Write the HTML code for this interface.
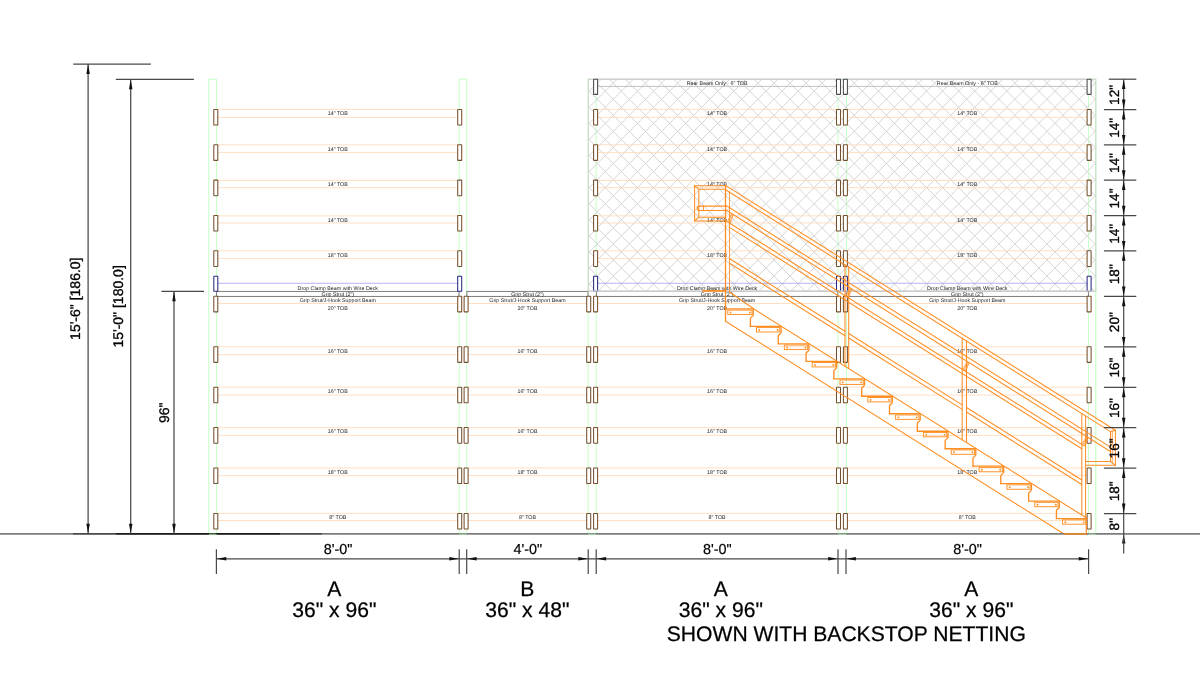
<!DOCTYPE html>
<html><head><meta charset="utf-8"><title>Rack Elevation</title>
<style>
html,body{margin:0;padding:0;background:#fff;}
body{width:1200px;height:684px;overflow:hidden;font-family:"Liberation Sans",sans-serif;}
svg{display:block;font-family:"Liberation Sans",sans-serif;text-rendering:geometricPrecision;will-change:transform;}
</style></head><body>
<svg width="1200" height="684" viewBox="0 0 1200 684">
<rect width="1200" height="684" fill="#fff"/>
<rect x="208.80" y="79.20" width="7.60" height="454.50" fill="none" stroke="#c0ffc0" stroke-width="0.9" rx="0" />
<rect x="459.20" y="79.20" width="7.50" height="454.50" fill="none" stroke="#c0ffc0" stroke-width="0.9" rx="0" />
<rect x="588.20" y="79.20" width="8.00" height="454.50" fill="none" stroke="#c0ffc0" stroke-width="0.9" rx="0" />
<rect x="838.00" y="79.20" width="8.50" height="454.50" fill="none" stroke="#c0ffc0" stroke-width="0.9" rx="0" />
<rect x="1088.60" y="79.20" width="7.20" height="454.50" fill="none" stroke="#c0ffc0" stroke-width="0.9" rx="0" />
<clipPath id="netclip"><rect x="588.3" y="79.20" width="507.50" height="212.00"/></clipPath>
<g clip-path="url(#netclip)" stroke="#d5d5d5" stroke-width="1.0" fill="none">
<path d="M574.10 74.20L352.10 296.20M590.17 74.20L368.17 296.20M606.23 74.20L384.23 296.20M622.30 74.20L400.30 296.20M638.37 74.20L416.37 296.20M654.43 74.20L432.43 296.20M670.50 74.20L448.50 296.20M686.56 74.20L464.56 296.20M702.62 74.20L480.63 296.20M718.69 74.20L496.69 296.20M734.75 74.20L512.76 296.20M750.82 74.20L528.82 296.20M766.88 74.20L544.88 296.20M782.95 74.20L560.95 296.20M799.01 74.20L577.02 296.20M815.08 74.20L593.08 296.20M831.14 74.20L609.14 296.20M847.21 74.20L625.21 296.20M863.27 74.20L641.28 296.20M879.34 74.20L657.34 296.20M895.40 74.20L673.40 296.20M911.47 74.20L689.47 296.20M927.53 74.20L705.54 296.20M943.60 74.20L721.60 296.20M959.66 74.20L737.66 296.20M975.73 74.20L753.73 296.20M991.79 74.20L769.79 296.20M1007.86 74.20L785.86 296.20M1023.92 74.20L801.92 296.20M1039.99 74.20L817.99 296.20M1056.06 74.20L834.06 296.20M1072.12 74.20L850.12 296.20M1088.18 74.20L866.18 296.20M1104.25 74.20L882.25 296.20M1120.32 74.20L898.32 296.20M1136.38 74.20L914.38 296.20M1152.44 74.20L930.44 296.20M1168.51 74.20L946.51 296.20M1184.58 74.20L962.58 296.20M1200.64 74.20L978.64 296.20M1216.71 74.20L994.71 296.20M1232.77 74.20L1010.77 296.20M1248.84 74.20L1026.84 296.20M1264.90 74.20L1042.90 296.20M1280.96 74.20L1058.96 296.20M1297.03 74.20L1075.03 296.20M1313.10 74.20L1091.10 296.20M1329.16 74.20L1107.16 296.20M347.26 74.20L569.26 296.20M363.32 74.20L585.32 296.20M379.39 74.20L601.39 296.20M395.45 74.20L617.45 296.20M411.52 74.20L633.52 296.20M427.58 74.20L649.58 296.20M443.65 74.20L665.65 296.20M459.71 74.20L681.71 296.20M475.78 74.20L697.78 296.20M491.84 74.20L713.84 296.20M507.91 74.20L729.91 296.20M523.97 74.20L745.97 296.20M540.04 74.20L762.04 296.20M556.10 74.20L778.10 296.20M572.17 74.20L794.17 296.20M588.23 74.20L810.23 296.20M604.30 74.20L826.30 296.20M620.37 74.20L842.37 296.20M636.43 74.20L858.43 296.20M652.50 74.20L874.49 296.20M668.56 74.20L890.56 296.20M684.62 74.20L906.62 296.20M700.69 74.20L922.69 296.20M716.75 74.20L938.75 296.20M732.82 74.20L954.82 296.20M748.88 74.20L970.88 296.20M764.95 74.20L986.95 296.20M781.01 74.20L1003.01 296.20M797.08 74.20L1019.08 296.20M813.14 74.20L1035.14 296.20M829.21 74.20L1051.21 296.20M845.27 74.20L1067.27 296.20M861.34 74.20L1083.34 296.20M877.40 74.20L1099.40 296.20M893.47 74.20L1115.47 296.20M909.53 74.20L1131.53 296.20M925.60 74.20L1147.60 296.20M941.66 74.20L1163.66 296.20M957.73 74.20L1179.73 296.20M973.79 74.20L1195.79 296.20M989.86 74.20L1211.86 296.20M1005.92 74.20L1227.92 296.20M1021.99 74.20L1243.99 296.20M1038.06 74.20L1260.06 296.20M1054.12 74.20L1276.12 296.20M1070.18 74.20L1292.18 296.20M1086.25 74.20L1308.25 296.20M1102.32 74.20L1324.32 296.20M1118.38 74.20L1340.38 296.20"/>
</g>
<line x1="217.40" y1="109.40" x2="458.20" y2="109.40" stroke="#ffdabb" stroke-width="0.85" />
<line x1="217.40" y1="117.40" x2="458.20" y2="117.40" stroke="#ffdabb" stroke-width="0.85" />
<text x="337.80" y="115.30" font-size="5.3" text-anchor="middle" fill="#222" >14&quot; TOB</text>
<line x1="217.40" y1="144.75" x2="458.20" y2="144.75" stroke="#ffdabb" stroke-width="0.85" />
<line x1="217.40" y1="152.45" x2="458.20" y2="152.45" stroke="#ffdabb" stroke-width="0.85" />
<text x="337.80" y="150.65" font-size="5.3" text-anchor="middle" fill="#222" >14&quot; TOB</text>
<line x1="217.40" y1="180.50" x2="458.20" y2="180.50" stroke="#ffdabb" stroke-width="0.85" />
<line x1="217.40" y1="187.60" x2="458.20" y2="187.60" stroke="#ffdabb" stroke-width="0.85" />
<text x="337.80" y="186.40" font-size="5.3" text-anchor="middle" fill="#222" >14&quot; TOB</text>
<line x1="217.40" y1="215.85" x2="458.20" y2="215.85" stroke="#ffdabb" stroke-width="0.85" />
<line x1="217.40" y1="222.95" x2="458.20" y2="222.95" stroke="#ffdabb" stroke-width="0.85" />
<text x="337.80" y="221.75" font-size="5.3" text-anchor="middle" fill="#222" >14&quot; TOB</text>
<line x1="217.40" y1="250.80" x2="458.20" y2="250.80" stroke="#ffdabb" stroke-width="0.85" />
<line x1="217.40" y1="258.40" x2="458.20" y2="258.40" stroke="#ffdabb" stroke-width="0.85" />
<text x="337.80" y="256.70" font-size="5.3" text-anchor="middle" fill="#222" >18&quot; TOB</text>
<line x1="217.40" y1="296.25" x2="458.20" y2="296.25" stroke="#ffdabb" stroke-width="0.85" />
<line x1="217.40" y1="303.50" x2="458.20" y2="303.50" stroke="#ffdabb" stroke-width="0.9" />
<text x="337.80" y="310.00" font-size="5.3" text-anchor="middle" fill="#222" >20&quot; TOB</text>
<line x1="217.40" y1="346.75" x2="458.20" y2="346.75" stroke="#ffdabb" stroke-width="0.85" />
<line x1="217.40" y1="354.65" x2="458.20" y2="354.65" stroke="#ffdabb" stroke-width="0.85" />
<text x="337.80" y="352.65" font-size="5.3" text-anchor="middle" fill="#222" >16&quot; TOB</text>
<line x1="217.40" y1="387.15" x2="458.20" y2="387.15" stroke="#ffdabb" stroke-width="0.85" />
<line x1="217.40" y1="395.05" x2="458.20" y2="395.05" stroke="#ffdabb" stroke-width="0.85" />
<text x="337.80" y="393.05" font-size="5.3" text-anchor="middle" fill="#222" >16&quot; TOB</text>
<line x1="217.40" y1="427.55" x2="458.20" y2="427.55" stroke="#ffdabb" stroke-width="0.85" />
<line x1="217.40" y1="435.45" x2="458.20" y2="435.45" stroke="#ffdabb" stroke-width="0.85" />
<text x="337.80" y="433.45" font-size="5.3" text-anchor="middle" fill="#222" >16&quot; TOB</text>
<line x1="217.40" y1="467.95" x2="458.20" y2="467.95" stroke="#ffdabb" stroke-width="0.85" />
<line x1="217.40" y1="475.55" x2="458.20" y2="475.55" stroke="#ffdabb" stroke-width="0.85" />
<text x="337.80" y="473.85" font-size="5.3" text-anchor="middle" fill="#222" >18&quot; TOB</text>
<line x1="217.40" y1="513.40" x2="458.20" y2="513.40" stroke="#ffdabb" stroke-width="0.85" />
<line x1="217.40" y1="520.50" x2="458.20" y2="520.50" stroke="#ffdabb" stroke-width="0.85" />
<text x="337.80" y="519.30" font-size="5.3" text-anchor="middle" fill="#222" >8&quot; TOB</text>
<rect x="216.60" y="291.40" width="242.40" height="5.00" fill="#fff" stroke="#707070" stroke-width="0.9" rx="0" />
<text x="337.80" y="295.80" font-size="5.3" text-anchor="middle" fill="#222" >Grip Strut (2&quot;)</text>
<text x="337.80" y="302.10" font-size="5.3" text-anchor="middle" fill="#222" >Grip Strut/J-Hook Support Beam</text>
<line x1="217.40" y1="283.30" x2="458.20" y2="283.30" stroke="#a8a8f4" stroke-width="0.85" />
<text x="337.80" y="289.90" font-size="5.3" text-anchor="middle" fill="#222" >Drop Clamp Beam with Wire Deck</text>
<line x1="467.70" y1="296.25" x2="587.20" y2="296.25" stroke="#ffdabb" stroke-width="0.85" />
<line x1="467.70" y1="303.50" x2="587.20" y2="303.50" stroke="#ffdabb" stroke-width="0.9" />
<text x="527.45" y="310.00" font-size="5.3" text-anchor="middle" fill="#222" >20&quot; TOB</text>
<line x1="467.70" y1="346.75" x2="587.20" y2="346.75" stroke="#ffdabb" stroke-width="0.85" />
<line x1="467.70" y1="354.65" x2="587.20" y2="354.65" stroke="#ffdabb" stroke-width="0.85" />
<text x="527.45" y="352.65" font-size="5.3" text-anchor="middle" fill="#222" >16&quot; TOB</text>
<line x1="467.70" y1="387.15" x2="587.20" y2="387.15" stroke="#ffdabb" stroke-width="0.85" />
<line x1="467.70" y1="395.05" x2="587.20" y2="395.05" stroke="#ffdabb" stroke-width="0.85" />
<text x="527.45" y="393.05" font-size="5.3" text-anchor="middle" fill="#222" >16&quot; TOB</text>
<line x1="467.70" y1="427.55" x2="587.20" y2="427.55" stroke="#ffdabb" stroke-width="0.85" />
<line x1="467.70" y1="435.45" x2="587.20" y2="435.45" stroke="#ffdabb" stroke-width="0.85" />
<text x="527.45" y="433.45" font-size="5.3" text-anchor="middle" fill="#222" >16&quot; TOB</text>
<line x1="467.70" y1="467.95" x2="587.20" y2="467.95" stroke="#ffdabb" stroke-width="0.85" />
<line x1="467.70" y1="475.55" x2="587.20" y2="475.55" stroke="#ffdabb" stroke-width="0.85" />
<text x="527.45" y="473.85" font-size="5.3" text-anchor="middle" fill="#222" >18&quot; TOB</text>
<line x1="467.70" y1="513.40" x2="587.20" y2="513.40" stroke="#ffdabb" stroke-width="0.85" />
<line x1="467.70" y1="520.50" x2="587.20" y2="520.50" stroke="#ffdabb" stroke-width="0.85" />
<text x="527.45" y="519.30" font-size="5.3" text-anchor="middle" fill="#222" >8&quot; TOB</text>
<rect x="466.90" y="291.40" width="121.10" height="5.00" fill="#fff" stroke="#707070" stroke-width="0.9" rx="0" />
<text x="527.45" y="295.80" font-size="5.3" text-anchor="middle" fill="#222" >Grip Strut (2&quot;)</text>
<text x="527.45" y="302.10" font-size="5.3" text-anchor="middle" fill="#222" >Grip Strut/J-Hook Support Beam</text>
<line x1="597.20" y1="109.40" x2="837.00" y2="109.40" stroke="#ffdabb" stroke-width="0.85" />
<line x1="597.20" y1="117.40" x2="837.00" y2="117.40" stroke="#ffdabb" stroke-width="0.85" />
<text x="717.10" y="115.30" font-size="5.3" text-anchor="middle" fill="#222" >14&quot; TOB</text>
<line x1="597.20" y1="144.75" x2="837.00" y2="144.75" stroke="#ffdabb" stroke-width="0.85" />
<line x1="597.20" y1="152.45" x2="837.00" y2="152.45" stroke="#ffdabb" stroke-width="0.85" />
<text x="717.10" y="150.65" font-size="5.3" text-anchor="middle" fill="#222" >14&quot; TOB</text>
<line x1="597.20" y1="180.50" x2="837.00" y2="180.50" stroke="#ffdabb" stroke-width="0.85" />
<line x1="597.20" y1="187.60" x2="837.00" y2="187.60" stroke="#ffdabb" stroke-width="0.85" />
<text x="717.10" y="186.40" font-size="5.3" text-anchor="middle" fill="#222" >14&quot; TOB</text>
<line x1="597.20" y1="215.85" x2="837.00" y2="215.85" stroke="#ffdabb" stroke-width="0.85" />
<line x1="597.20" y1="222.95" x2="837.00" y2="222.95" stroke="#ffdabb" stroke-width="0.85" />
<text x="717.10" y="221.75" font-size="5.3" text-anchor="middle" fill="#222" >14&quot; TOB</text>
<line x1="597.20" y1="250.80" x2="837.00" y2="250.80" stroke="#ffdabb" stroke-width="0.85" />
<line x1="597.20" y1="258.40" x2="837.00" y2="258.40" stroke="#ffdabb" stroke-width="0.85" />
<text x="717.10" y="256.70" font-size="5.3" text-anchor="middle" fill="#222" >18&quot; TOB</text>
<line x1="597.20" y1="296.25" x2="837.00" y2="296.25" stroke="#ffdabb" stroke-width="0.85" />
<line x1="597.20" y1="303.50" x2="837.00" y2="303.50" stroke="#ffdabb" stroke-width="0.9" />
<text x="717.10" y="310.00" font-size="5.3" text-anchor="middle" fill="#222" >20&quot; TOB</text>
<line x1="597.20" y1="346.75" x2="837.00" y2="346.75" stroke="#ffdabb" stroke-width="0.85" />
<line x1="597.20" y1="354.65" x2="837.00" y2="354.65" stroke="#ffdabb" stroke-width="0.85" />
<text x="717.10" y="352.65" font-size="5.3" text-anchor="middle" fill="#222" >16&quot; TOB</text>
<line x1="597.20" y1="387.15" x2="837.00" y2="387.15" stroke="#ffdabb" stroke-width="0.85" />
<line x1="597.20" y1="395.05" x2="837.00" y2="395.05" stroke="#ffdabb" stroke-width="0.85" />
<text x="717.10" y="393.05" font-size="5.3" text-anchor="middle" fill="#222" >16&quot; TOB</text>
<line x1="597.20" y1="427.55" x2="837.00" y2="427.55" stroke="#ffdabb" stroke-width="0.85" />
<line x1="597.20" y1="435.45" x2="837.00" y2="435.45" stroke="#ffdabb" stroke-width="0.85" />
<text x="717.10" y="433.45" font-size="5.3" text-anchor="middle" fill="#222" >16&quot; TOB</text>
<line x1="597.20" y1="467.95" x2="837.00" y2="467.95" stroke="#ffdabb" stroke-width="0.85" />
<line x1="597.20" y1="475.55" x2="837.00" y2="475.55" stroke="#ffdabb" stroke-width="0.85" />
<text x="717.10" y="473.85" font-size="5.3" text-anchor="middle" fill="#222" >18&quot; TOB</text>
<line x1="597.20" y1="513.40" x2="837.00" y2="513.40" stroke="#ffdabb" stroke-width="0.85" />
<line x1="597.20" y1="520.50" x2="837.00" y2="520.50" stroke="#ffdabb" stroke-width="0.85" />
<text x="717.10" y="519.30" font-size="5.3" text-anchor="middle" fill="#222" >8&quot; TOB</text>
<rect x="596.40" y="291.40" width="241.40" height="5.00" fill="#fff" stroke="#707070" stroke-width="0.9" rx="0" />
<text x="717.10" y="295.80" font-size="5.3" text-anchor="middle" fill="#222" >Grip Strut (2&quot;)</text>
<text x="717.10" y="302.10" font-size="5.3" text-anchor="middle" fill="#222" >Grip Strut/J-Hook Support Beam</text>
<line x1="597.20" y1="283.30" x2="837.00" y2="283.30" stroke="#a8a8f4" stroke-width="0.85" />
<text x="717.10" y="289.90" font-size="5.3" text-anchor="middle" fill="#222" >Drop Clamp Beam with Wire Deck</text>
<line x1="597.20" y1="79.20" x2="837.00" y2="79.20" stroke="#bbb" stroke-width="0.9" />
<line x1="597.20" y1="86.40" x2="837.00" y2="86.40" stroke="#bbb" stroke-width="0.9" />
<text x="717.10" y="85.00" font-size="5.3" text-anchor="middle" fill="#222" >Rear Beam Only - 6&quot; TOB</text>
<line x1="847.00" y1="109.40" x2="1087.60" y2="109.40" stroke="#ffdabb" stroke-width="0.85" />
<line x1="847.00" y1="117.40" x2="1087.60" y2="117.40" stroke="#ffdabb" stroke-width="0.85" />
<text x="967.30" y="115.30" font-size="5.3" text-anchor="middle" fill="#222" >14&quot; TOB</text>
<line x1="847.00" y1="144.75" x2="1087.60" y2="144.75" stroke="#ffdabb" stroke-width="0.85" />
<line x1="847.00" y1="152.45" x2="1087.60" y2="152.45" stroke="#ffdabb" stroke-width="0.85" />
<text x="967.30" y="150.65" font-size="5.3" text-anchor="middle" fill="#222" >14&quot; TOB</text>
<line x1="847.00" y1="180.50" x2="1087.60" y2="180.50" stroke="#ffdabb" stroke-width="0.85" />
<line x1="847.00" y1="187.60" x2="1087.60" y2="187.60" stroke="#ffdabb" stroke-width="0.85" />
<text x="967.30" y="186.40" font-size="5.3" text-anchor="middle" fill="#222" >14&quot; TOB</text>
<line x1="847.00" y1="215.85" x2="1087.60" y2="215.85" stroke="#ffdabb" stroke-width="0.85" />
<line x1="847.00" y1="222.95" x2="1087.60" y2="222.95" stroke="#ffdabb" stroke-width="0.85" />
<text x="967.30" y="221.75" font-size="5.3" text-anchor="middle" fill="#222" >14&quot; TOB</text>
<line x1="847.00" y1="250.80" x2="1087.60" y2="250.80" stroke="#ffdabb" stroke-width="0.85" />
<line x1="847.00" y1="258.40" x2="1087.60" y2="258.40" stroke="#ffdabb" stroke-width="0.85" />
<text x="967.30" y="256.70" font-size="5.3" text-anchor="middle" fill="#222" >18&quot; TOB</text>
<line x1="847.00" y1="296.25" x2="1087.60" y2="296.25" stroke="#ffdabb" stroke-width="0.85" />
<line x1="847.00" y1="303.50" x2="1087.60" y2="303.50" stroke="#ffdabb" stroke-width="0.9" />
<text x="967.30" y="310.00" font-size="5.3" text-anchor="middle" fill="#222" >20&quot; TOB</text>
<line x1="847.00" y1="346.75" x2="1087.60" y2="346.75" stroke="#ffdabb" stroke-width="0.85" />
<line x1="847.00" y1="354.65" x2="1087.60" y2="354.65" stroke="#ffdabb" stroke-width="0.85" />
<text x="967.30" y="352.65" font-size="5.3" text-anchor="middle" fill="#222" >16&quot; TOB</text>
<line x1="847.00" y1="387.15" x2="1087.60" y2="387.15" stroke="#ffdabb" stroke-width="0.85" />
<line x1="847.00" y1="395.05" x2="1087.60" y2="395.05" stroke="#ffdabb" stroke-width="0.85" />
<text x="967.30" y="393.05" font-size="5.3" text-anchor="middle" fill="#222" >16&quot; TOB</text>
<line x1="847.00" y1="427.55" x2="1087.60" y2="427.55" stroke="#ffdabb" stroke-width="0.85" />
<line x1="847.00" y1="435.45" x2="1087.60" y2="435.45" stroke="#ffdabb" stroke-width="0.85" />
<text x="967.30" y="433.45" font-size="5.3" text-anchor="middle" fill="#222" >16&quot; TOB</text>
<line x1="847.00" y1="467.95" x2="1087.60" y2="467.95" stroke="#ffdabb" stroke-width="0.85" />
<line x1="847.00" y1="475.55" x2="1087.60" y2="475.55" stroke="#ffdabb" stroke-width="0.85" />
<text x="967.30" y="473.85" font-size="5.3" text-anchor="middle" fill="#222" >18&quot; TOB</text>
<line x1="847.00" y1="513.40" x2="1087.60" y2="513.40" stroke="#ffdabb" stroke-width="0.85" />
<line x1="847.00" y1="520.50" x2="1087.60" y2="520.50" stroke="#ffdabb" stroke-width="0.85" />
<text x="967.30" y="519.30" font-size="5.3" text-anchor="middle" fill="#222" >8&quot; TOB</text>
<rect x="846.20" y="291.40" width="242.20" height="5.00" fill="#fff" stroke="#707070" stroke-width="0.9" rx="0" />
<text x="967.30" y="295.80" font-size="5.3" text-anchor="middle" fill="#222" >Grip Strut (2&quot;)</text>
<text x="967.30" y="302.10" font-size="5.3" text-anchor="middle" fill="#222" >Grip Strut/J-Hook Support Beam</text>
<line x1="847.00" y1="283.30" x2="1087.60" y2="283.30" stroke="#a8a8f4" stroke-width="0.85" />
<text x="967.30" y="289.90" font-size="5.3" text-anchor="middle" fill="#222" >Drop Clamp Beam with Wire Deck</text>
<line x1="847.00" y1="79.20" x2="1087.60" y2="79.20" stroke="#bbb" stroke-width="0.9" />
<line x1="847.00" y1="86.40" x2="1087.60" y2="86.40" stroke="#bbb" stroke-width="0.9" />
<text x="967.30" y="85.00" font-size="5.3" text-anchor="middle" fill="#222" >Rear Beam Only - 6&quot; TOB</text>
<rect x="588.30" y="79.20" width="507.50" height="212.00" fill="none" stroke="#cecece" stroke-width="1.0" rx="0" />
<rect x="213.80" y="109.40" width="4.00" height="15.60" fill="#fff" stroke="#75502e" stroke-width="1.05" rx="0.35" />
<rect x="457.70" y="109.40" width="4.00" height="15.60" fill="#fff" stroke="#75502e" stroke-width="1.05" rx="0.35" />
<rect x="213.80" y="144.75" width="4.00" height="15.60" fill="#fff" stroke="#75502e" stroke-width="1.05" rx="0.35" />
<rect x="457.70" y="144.75" width="4.00" height="15.60" fill="#fff" stroke="#75502e" stroke-width="1.05" rx="0.35" />
<rect x="213.80" y="180.10" width="4.00" height="15.60" fill="#fff" stroke="#75502e" stroke-width="1.05" rx="0.35" />
<rect x="457.70" y="180.10" width="4.00" height="15.60" fill="#fff" stroke="#75502e" stroke-width="1.05" rx="0.35" />
<rect x="213.80" y="215.45" width="4.00" height="15.60" fill="#fff" stroke="#75502e" stroke-width="1.05" rx="0.35" />
<rect x="457.70" y="215.45" width="4.00" height="15.60" fill="#fff" stroke="#75502e" stroke-width="1.05" rx="0.35" />
<rect x="213.80" y="250.80" width="4.00" height="15.60" fill="#fff" stroke="#75502e" stroke-width="1.05" rx="0.35" />
<rect x="457.70" y="250.80" width="4.00" height="15.60" fill="#fff" stroke="#75502e" stroke-width="1.05" rx="0.35" />
<rect x="213.80" y="296.25" width="4.00" height="15.60" fill="#fff" stroke="#75502e" stroke-width="1.05" rx="0.35" />
<rect x="457.70" y="296.25" width="4.00" height="15.60" fill="#fff" stroke="#75502e" stroke-width="1.05" rx="0.35" />
<rect x="213.80" y="346.75" width="4.00" height="15.60" fill="#fff" stroke="#75502e" stroke-width="1.05" rx="0.35" />
<rect x="457.70" y="346.75" width="4.00" height="15.60" fill="#fff" stroke="#75502e" stroke-width="1.05" rx="0.35" />
<rect x="213.80" y="387.15" width="4.00" height="15.60" fill="#fff" stroke="#75502e" stroke-width="1.05" rx="0.35" />
<rect x="457.70" y="387.15" width="4.00" height="15.60" fill="#fff" stroke="#75502e" stroke-width="1.05" rx="0.35" />
<rect x="213.80" y="427.55" width="4.00" height="15.60" fill="#fff" stroke="#75502e" stroke-width="1.05" rx="0.35" />
<rect x="457.70" y="427.55" width="4.00" height="15.60" fill="#fff" stroke="#75502e" stroke-width="1.05" rx="0.35" />
<rect x="213.80" y="467.95" width="4.00" height="15.60" fill="#fff" stroke="#75502e" stroke-width="1.05" rx="0.35" />
<rect x="457.70" y="467.95" width="4.00" height="15.60" fill="#fff" stroke="#75502e" stroke-width="1.05" rx="0.35" />
<rect x="213.80" y="513.40" width="4.00" height="15.60" fill="#fff" stroke="#75502e" stroke-width="1.05" rx="0.35" />
<rect x="457.70" y="513.40" width="4.00" height="15.60" fill="#fff" stroke="#75502e" stroke-width="1.05" rx="0.35" />
<rect x="213.80" y="276.30" width="4.00" height="15.00" fill="#fff" stroke="#2a2a80" stroke-width="1.05" rx="0.35" />
<rect x="457.70" y="276.30" width="4.00" height="15.00" fill="#fff" stroke="#2a2a80" stroke-width="1.05" rx="0.35" />
<rect x="464.10" y="296.25" width="4.00" height="15.60" fill="#fff" stroke="#75502e" stroke-width="1.05" rx="0.35" />
<rect x="586.70" y="296.25" width="4.00" height="15.60" fill="#fff" stroke="#75502e" stroke-width="1.05" rx="0.35" />
<rect x="464.10" y="346.75" width="4.00" height="15.60" fill="#fff" stroke="#75502e" stroke-width="1.05" rx="0.35" />
<rect x="586.70" y="346.75" width="4.00" height="15.60" fill="#fff" stroke="#75502e" stroke-width="1.05" rx="0.35" />
<rect x="464.10" y="387.15" width="4.00" height="15.60" fill="#fff" stroke="#75502e" stroke-width="1.05" rx="0.35" />
<rect x="586.70" y="387.15" width="4.00" height="15.60" fill="#fff" stroke="#75502e" stroke-width="1.05" rx="0.35" />
<rect x="464.10" y="427.55" width="4.00" height="15.60" fill="#fff" stroke="#75502e" stroke-width="1.05" rx="0.35" />
<rect x="586.70" y="427.55" width="4.00" height="15.60" fill="#fff" stroke="#75502e" stroke-width="1.05" rx="0.35" />
<rect x="464.10" y="467.95" width="4.00" height="15.60" fill="#fff" stroke="#75502e" stroke-width="1.05" rx="0.35" />
<rect x="586.70" y="467.95" width="4.00" height="15.60" fill="#fff" stroke="#75502e" stroke-width="1.05" rx="0.35" />
<rect x="464.10" y="513.40" width="4.00" height="15.60" fill="#fff" stroke="#75502e" stroke-width="1.05" rx="0.35" />
<rect x="586.70" y="513.40" width="4.00" height="15.60" fill="#fff" stroke="#75502e" stroke-width="1.05" rx="0.35" />
<rect x="593.60" y="109.40" width="4.00" height="15.60" fill="#fff" stroke="#75502e" stroke-width="1.05" rx="0.35" />
<rect x="836.50" y="109.40" width="4.00" height="15.60" fill="#fff" stroke="#75502e" stroke-width="1.05" rx="0.35" />
<rect x="593.60" y="144.75" width="4.00" height="15.60" fill="#fff" stroke="#75502e" stroke-width="1.05" rx="0.35" />
<rect x="836.50" y="144.75" width="4.00" height="15.60" fill="#fff" stroke="#75502e" stroke-width="1.05" rx="0.35" />
<rect x="593.60" y="180.10" width="4.00" height="15.60" fill="#fff" stroke="#75502e" stroke-width="1.05" rx="0.35" />
<rect x="836.50" y="180.10" width="4.00" height="15.60" fill="#fff" stroke="#75502e" stroke-width="1.05" rx="0.35" />
<rect x="593.60" y="215.45" width="4.00" height="15.60" fill="#fff" stroke="#75502e" stroke-width="1.05" rx="0.35" />
<rect x="836.50" y="215.45" width="4.00" height="15.60" fill="#fff" stroke="#75502e" stroke-width="1.05" rx="0.35" />
<rect x="593.60" y="250.80" width="4.00" height="15.60" fill="#fff" stroke="#75502e" stroke-width="1.05" rx="0.35" />
<rect x="836.50" y="250.80" width="4.00" height="15.60" fill="#fff" stroke="#75502e" stroke-width="1.05" rx="0.35" />
<rect x="593.60" y="296.25" width="4.00" height="15.60" fill="#fff" stroke="#75502e" stroke-width="1.05" rx="0.35" />
<rect x="836.50" y="296.25" width="4.00" height="15.60" fill="#fff" stroke="#75502e" stroke-width="1.05" rx="0.35" />
<rect x="593.60" y="346.75" width="4.00" height="15.60" fill="#fff" stroke="#75502e" stroke-width="1.05" rx="0.35" />
<rect x="836.50" y="346.75" width="4.00" height="15.60" fill="#fff" stroke="#75502e" stroke-width="1.05" rx="0.35" />
<rect x="593.60" y="387.15" width="4.00" height="15.60" fill="#fff" stroke="#75502e" stroke-width="1.05" rx="0.35" />
<rect x="836.50" y="387.15" width="4.00" height="15.60" fill="#fff" stroke="#75502e" stroke-width="1.05" rx="0.35" />
<rect x="593.60" y="427.55" width="4.00" height="15.60" fill="#fff" stroke="#75502e" stroke-width="1.05" rx="0.35" />
<rect x="836.50" y="427.55" width="4.00" height="15.60" fill="#fff" stroke="#75502e" stroke-width="1.05" rx="0.35" />
<rect x="593.60" y="467.95" width="4.00" height="15.60" fill="#fff" stroke="#75502e" stroke-width="1.05" rx="0.35" />
<rect x="836.50" y="467.95" width="4.00" height="15.60" fill="#fff" stroke="#75502e" stroke-width="1.05" rx="0.35" />
<rect x="593.60" y="513.40" width="4.00" height="15.60" fill="#fff" stroke="#75502e" stroke-width="1.05" rx="0.35" />
<rect x="836.50" y="513.40" width="4.00" height="15.60" fill="#fff" stroke="#75502e" stroke-width="1.05" rx="0.35" />
<rect x="593.60" y="276.30" width="4.00" height="15.00" fill="#fff" stroke="#2a2a80" stroke-width="1.05" rx="0.35" />
<rect x="836.50" y="276.30" width="4.00" height="15.00" fill="#fff" stroke="#2a2a80" stroke-width="1.05" rx="0.35" />
<rect x="593.60" y="79.20" width="4.00" height="15.20" fill="#fff" stroke="#4a4a4a" stroke-width="1.05" rx="0.35" />
<rect x="836.50" y="79.20" width="4.00" height="15.20" fill="#fff" stroke="#4a4a4a" stroke-width="1.05" rx="0.35" />
<rect x="843.40" y="109.40" width="4.00" height="15.60" fill="#fff" stroke="#75502e" stroke-width="1.05" rx="0.35" />
<rect x="1087.10" y="109.40" width="4.00" height="15.60" fill="#fff" stroke="#75502e" stroke-width="1.05" rx="0.35" />
<rect x="843.40" y="144.75" width="4.00" height="15.60" fill="#fff" stroke="#75502e" stroke-width="1.05" rx="0.35" />
<rect x="1087.10" y="144.75" width="4.00" height="15.60" fill="#fff" stroke="#75502e" stroke-width="1.05" rx="0.35" />
<rect x="843.40" y="180.10" width="4.00" height="15.60" fill="#fff" stroke="#75502e" stroke-width="1.05" rx="0.35" />
<rect x="1087.10" y="180.10" width="4.00" height="15.60" fill="#fff" stroke="#75502e" stroke-width="1.05" rx="0.35" />
<rect x="843.40" y="215.45" width="4.00" height="15.60" fill="#fff" stroke="#75502e" stroke-width="1.05" rx="0.35" />
<rect x="1087.10" y="215.45" width="4.00" height="15.60" fill="#fff" stroke="#75502e" stroke-width="1.05" rx="0.35" />
<rect x="843.40" y="250.80" width="4.00" height="15.60" fill="#fff" stroke="#75502e" stroke-width="1.05" rx="0.35" />
<rect x="1087.10" y="250.80" width="4.00" height="15.60" fill="#fff" stroke="#75502e" stroke-width="1.05" rx="0.35" />
<rect x="843.40" y="296.25" width="4.00" height="15.60" fill="#fff" stroke="#75502e" stroke-width="1.05" rx="0.35" />
<rect x="1087.10" y="296.25" width="4.00" height="15.60" fill="#fff" stroke="#75502e" stroke-width="1.05" rx="0.35" />
<rect x="843.40" y="346.75" width="4.00" height="15.60" fill="#fff" stroke="#75502e" stroke-width="1.05" rx="0.35" />
<rect x="1087.10" y="346.75" width="4.00" height="15.60" fill="#fff" stroke="#75502e" stroke-width="1.05" rx="0.35" />
<rect x="843.40" y="387.15" width="4.00" height="15.60" fill="#fff" stroke="#75502e" stroke-width="1.05" rx="0.35" />
<rect x="1087.10" y="387.15" width="4.00" height="15.60" fill="#fff" stroke="#75502e" stroke-width="1.05" rx="0.35" />
<rect x="843.40" y="427.55" width="4.00" height="15.60" fill="#fff" stroke="#75502e" stroke-width="1.05" rx="0.35" />
<rect x="1087.10" y="427.55" width="4.00" height="15.60" fill="#fff" stroke="#75502e" stroke-width="1.05" rx="0.35" />
<rect x="843.40" y="467.95" width="4.00" height="15.60" fill="#fff" stroke="#75502e" stroke-width="1.05" rx="0.35" />
<rect x="1087.10" y="467.95" width="4.00" height="15.60" fill="#fff" stroke="#75502e" stroke-width="1.05" rx="0.35" />
<rect x="843.40" y="513.40" width="4.00" height="15.60" fill="#fff" stroke="#75502e" stroke-width="1.05" rx="0.35" />
<rect x="1087.10" y="513.40" width="4.00" height="15.60" fill="#fff" stroke="#75502e" stroke-width="1.05" rx="0.35" />
<rect x="843.40" y="276.30" width="4.00" height="15.00" fill="#fff" stroke="#2a2a80" stroke-width="1.05" rx="0.35" />
<rect x="1087.10" y="276.30" width="4.00" height="15.00" fill="#fff" stroke="#2a2a80" stroke-width="1.05" rx="0.35" />
<rect x="843.40" y="79.20" width="4.00" height="15.20" fill="#fff" stroke="#4a4a4a" stroke-width="1.05" rx="0.35" />
<rect x="1087.10" y="79.20" width="4.00" height="15.20" fill="#fff" stroke="#4a4a4a" stroke-width="1.05" rx="0.35" />
<line x1="588.30" y1="291.20" x2="1095.80" y2="291.20" stroke="#d2d2d2" stroke-width="1.2" />
<line x1="1095.80" y1="79.20" x2="1095.80" y2="533.70" stroke="#c0ffc0" stroke-width="0.9" stroke-opacity="0.45"/>
<g id="stairs">
<path d="M726.7 185.7L694.6 185.7L694.6 221.0L726.7 221.0" fill="none" stroke="#ff8e22" stroke-width="1.05" stroke-linejoin="round" stroke-linecap="round" />
<path d="M725.5 189.3L698.8 189.3L698.8 217.2L725.5 217.2" fill="none" stroke="#ff8e22" stroke-width="1.05" stroke-linejoin="round" stroke-linecap="round" />
<path d="M694.60 185.70L698.80 189.30" fill="none" stroke="#ff8e22" stroke-width="1.05" stroke-linejoin="round" stroke-linecap="round" />
<path d="M694.60 221.00L698.80 217.20" fill="none" stroke="#ff8e22" stroke-width="1.05" stroke-linejoin="round" stroke-linecap="round" />
<path d="M725.5 206.1L699.3 206.1A2.2 2.2 0 0 0 699.3 210.5L725.5 210.5" fill="none" stroke="#ff8e22" stroke-width="1.05" stroke-linejoin="round" stroke-linecap="round" />
<path d="M703.40 206.10L703.40 210.50" fill="none" stroke="#ff8e22" stroke-width="1.05" stroke-linejoin="round" stroke-linecap="round" />
<path d="M725.50 185.70L725.50 321.30" fill="none" stroke="#ff8e22" stroke-width="1.3" stroke-linejoin="round" stroke-linecap="round" />
<path d="M729.50 192.50L729.50 292.00" fill="none" stroke="#ff8e22" stroke-width="0.85" stroke-linejoin="round" stroke-linecap="round" />
<path d="M703.20 290.90L725.50 290.90" fill="none" stroke="#ff8e22" stroke-width="1.7" stroke-linejoin="round" stroke-linecap="round" />
<path d="M726.70 186.10L1115.40 430.26" fill="none" stroke="#ff8e22" stroke-width="1.05" stroke-linejoin="round" stroke-linecap="round" />
<path d="M725.60 189.81L1110.50 431.58" fill="none" stroke="#ff8e22" stroke-width="1.05" stroke-linejoin="round" stroke-linecap="round" />
<path d="M725.60 205.31L1110.50 447.08" fill="none" stroke="#ff8e22" stroke-width="1.05" stroke-linejoin="round" stroke-linecap="round" />
<path d="M725.60 209.71L1110.50 451.48" fill="none" stroke="#ff8e22" stroke-width="1.05" stroke-linejoin="round" stroke-linecap="round" />
<path d="M729.00 222.74L1081.80 444.35" fill="none" stroke="#ff8e22" stroke-width="1.05" stroke-linejoin="round" stroke-linecap="round" />
<path d="M729.00 227.14L1081.80 448.75" fill="none" stroke="#ff8e22" stroke-width="1.05" stroke-linejoin="round" stroke-linecap="round" />
<path d="M729.70 258.78L845.00 331.21" fill="none" stroke="#ff8e22" stroke-width="1.05" stroke-linejoin="round" stroke-linecap="round" />
<path d="M729.70 263.28L845.00 335.71" fill="none" stroke="#ff8e22" stroke-width="1.05" stroke-linejoin="round" stroke-linecap="round" />
<path d="M848.70 333.53L962.20 404.83" fill="none" stroke="#ff8e22" stroke-width="1.05" stroke-linejoin="round" stroke-linecap="round" />
<path d="M848.70 338.03L962.20 409.33" fill="none" stroke="#ff8e22" stroke-width="1.05" stroke-linejoin="round" stroke-linecap="round" />
<path d="M966.50 407.53L1081.80 479.95" fill="none" stroke="#ff8e22" stroke-width="1.05" stroke-linejoin="round" stroke-linecap="round" />
<path d="M966.50 412.03L1081.80 484.45" fill="none" stroke="#ff8e22" stroke-width="1.05" stroke-linejoin="round" stroke-linecap="round" />
<path d="M1110.50 431.58L1115.40 430.26" fill="none" stroke="#ff8e22" stroke-width="1.05" stroke-linejoin="round" stroke-linecap="round" />
<path d="M1115.40 430.26L1115.40 465.30" fill="none" stroke="#ff8e22" stroke-width="1.05" stroke-linejoin="round" stroke-linecap="round" />
<path d="M1110.50 431.58L1110.50 461.40" fill="none" stroke="#ff8e22" stroke-width="1.05" stroke-linejoin="round" stroke-linecap="round" />
<path d="M1112.30 431.08L1112.30 463.00" fill="none" stroke="#ff8e22" stroke-width="0.8" stroke-linejoin="round" stroke-linecap="round" />
<path d="M1085.50 461.40L1110.50 461.40" fill="none" stroke="#ff8e22" stroke-width="1.05" stroke-linejoin="round" stroke-linecap="round" />
<path d="M1085.50 465.30L1115.40 465.30" fill="none" stroke="#ff8e22" stroke-width="1.05" stroke-linejoin="round" stroke-linecap="round" />
<path d="M1110.50 461.40L1115.40 465.30" fill="none" stroke="#ff8e22" stroke-width="1.05" stroke-linejoin="round" stroke-linecap="round" />
<path d="M845.00 264.51L845.00 366.26" fill="none" stroke="#ff8e22" stroke-width="1.05" stroke-linejoin="round" stroke-linecap="round" />
<path d="M848.70 266.83L848.70 368.59" fill="none" stroke="#ff8e22" stroke-width="1.05" stroke-linejoin="round" stroke-linecap="round" />
<path d="M962.20 338.13L962.20 439.88" fill="none" stroke="#ff8e22" stroke-width="1.05" stroke-linejoin="round" stroke-linecap="round" />
<path d="M966.50 340.83L966.50 442.58" fill="none" stroke="#ff8e22" stroke-width="1.05" stroke-linejoin="round" stroke-linecap="round" />
<path d="M1081.80 413.25L1081.80 514.71" fill="none" stroke="#ff8e22" stroke-width="1.05" stroke-linejoin="round" stroke-linecap="round" />
<path d="M1085.60 415.94L1085.60 519.00" fill="none" stroke="#ff8e22" stroke-width="1.0" stroke-linejoin="round" stroke-linecap="round" />
<path d="M1086.30 517.80L1086.30 533.60" fill="none" stroke="#ff8e22" stroke-width="1.2" stroke-linejoin="round" stroke-linecap="round" />
<path d="M727.20 221.89L731.20 214.49L733.20 215.49L730.00 223.09Z" fill="#ff8e22" fill-opacity="0.45" stroke="#ff8e22" stroke-width="0.8" stroke-linejoin="round"/>
<path d="M845.60 296.27L849.60 288.87L851.60 289.87L848.40 297.47Z" fill="#ff8e22" fill-opacity="0.45" stroke="#ff8e22" stroke-width="0.8" stroke-linejoin="round"/>
<path d="M962.80 369.88L966.80 362.48L968.80 363.48L965.60 371.08Z" fill="#ff8e22" fill-opacity="0.45" stroke="#ff8e22" stroke-width="0.8" stroke-linejoin="round"/>
<path d="M1082.00 444.76L1086.00 437.36L1088.00 438.36L1084.80 445.96Z" fill="#ff8e22" fill-opacity="0.45" stroke="#ff8e22" stroke-width="0.8" stroke-linejoin="round"/>
<path d="M729.5 292.0L753.2 308.5L1086.2 517.77" fill="none" stroke="#ff8e22" stroke-width="1.05" stroke-linejoin="round" stroke-linecap="round" />
<path d="M725.50 321.30L1063.64 533.70" fill="none" stroke="#ff8e22" stroke-width="1.05" stroke-linejoin="round" stroke-linecap="round" />
<path d="M726.20 308.90L753.20 308.90L753.30 314.70C753.30 316.90 750.40 316.50 750.40 318.90L750.40 326.38" fill="none" stroke="#ff8e22" stroke-width="1.35" stroke-linejoin="round" stroke-linecap="round" />
<rect x="727.80" y="310.10" width="24.20" height="4.4" fill="none" stroke="#ff8e22" stroke-width="0.95"/>
<circle cx="730.60" cy="312.50" r="0.95" fill="#ff8e22"/><circle cx="749.80" cy="312.50" r="0.95" fill="#ff8e22"/>
<path d="M750.40 326.38L781.02 326.38L781.12 332.18C781.12 334.38 778.22 333.98 778.22 336.38L778.22 343.85" fill="none" stroke="#ff8e22" stroke-width="1.35" stroke-linejoin="round" stroke-linecap="round" />
<rect x="756.52" y="327.57" width="23.30" height="4.4" fill="none" stroke="#ff8e22" stroke-width="0.95"/>
<circle cx="759.32" cy="329.98" r="0.95" fill="#ff8e22"/><circle cx="777.62" cy="329.98" r="0.95" fill="#ff8e22"/>
<path d="M778.22 343.85L808.84 343.85L808.94 349.65C808.94 351.85 806.04 351.45 806.04 353.85L806.04 361.32" fill="none" stroke="#ff8e22" stroke-width="1.35" stroke-linejoin="round" stroke-linecap="round" />
<rect x="784.34" y="345.05" width="23.30" height="4.4" fill="none" stroke="#ff8e22" stroke-width="0.95"/>
<circle cx="787.14" cy="347.45" r="0.95" fill="#ff8e22"/><circle cx="805.44" cy="347.45" r="0.95" fill="#ff8e22"/>
<path d="M806.04 361.32L836.66 361.32L836.76 367.12C836.76 369.32 833.86 368.93 833.86 371.32L833.86 378.80" fill="none" stroke="#ff8e22" stroke-width="1.35" stroke-linejoin="round" stroke-linecap="round" />
<rect x="812.16" y="362.52" width="23.30" height="4.4" fill="none" stroke="#ff8e22" stroke-width="0.95"/>
<circle cx="814.96" cy="364.93" r="0.95" fill="#ff8e22"/><circle cx="833.26" cy="364.93" r="0.95" fill="#ff8e22"/>
<path d="M833.86 378.80L864.48 378.80L864.58 384.60C864.58 386.80 861.68 386.40 861.68 388.80L861.68 396.27" fill="none" stroke="#ff8e22" stroke-width="1.35" stroke-linejoin="round" stroke-linecap="round" />
<rect x="839.98" y="380.00" width="23.30" height="4.4" fill="none" stroke="#ff8e22" stroke-width="0.95"/>
<circle cx="842.78" cy="382.40" r="0.95" fill="#ff8e22"/><circle cx="861.08" cy="382.40" r="0.95" fill="#ff8e22"/>
<path d="M861.68 396.27L892.30 396.27L892.40 402.07C892.40 404.27 889.50 403.88 889.50 406.27L889.50 413.75" fill="none" stroke="#ff8e22" stroke-width="1.35" stroke-linejoin="round" stroke-linecap="round" />
<rect x="867.80" y="397.47" width="23.30" height="4.4" fill="none" stroke="#ff8e22" stroke-width="0.95"/>
<circle cx="870.60" cy="399.88" r="0.95" fill="#ff8e22"/><circle cx="888.90" cy="399.88" r="0.95" fill="#ff8e22"/>
<path d="M889.50 413.75L920.12 413.75L920.22 419.55C920.22 421.75 917.32 421.35 917.32 423.75L917.32 431.23" fill="none" stroke="#ff8e22" stroke-width="1.35" stroke-linejoin="round" stroke-linecap="round" />
<rect x="895.62" y="414.95" width="23.30" height="4.4" fill="none" stroke="#ff8e22" stroke-width="0.95"/>
<circle cx="898.42" cy="417.35" r="0.95" fill="#ff8e22"/><circle cx="916.72" cy="417.35" r="0.95" fill="#ff8e22"/>
<path d="M917.32 431.23L947.94 431.23L948.04 437.03C948.04 439.23 945.14 438.83 945.14 441.23L945.14 448.70" fill="none" stroke="#ff8e22" stroke-width="1.35" stroke-linejoin="round" stroke-linecap="round" />
<rect x="923.44" y="432.43" width="23.30" height="4.4" fill="none" stroke="#ff8e22" stroke-width="0.95"/>
<circle cx="926.24" cy="434.83" r="0.95" fill="#ff8e22"/><circle cx="944.54" cy="434.83" r="0.95" fill="#ff8e22"/>
<path d="M945.14 448.70L975.76 448.70L975.86 454.50C975.86 456.70 972.96 456.30 972.96 458.70L972.96 466.18" fill="none" stroke="#ff8e22" stroke-width="1.35" stroke-linejoin="round" stroke-linecap="round" />
<rect x="951.26" y="449.90" width="23.30" height="4.4" fill="none" stroke="#ff8e22" stroke-width="0.95"/>
<circle cx="954.06" cy="452.30" r="0.95" fill="#ff8e22"/><circle cx="972.36" cy="452.30" r="0.95" fill="#ff8e22"/>
<path d="M972.96 466.17L1003.58 466.17L1003.68 471.97C1003.68 474.17 1000.78 473.77 1000.78 476.17L1000.78 483.65" fill="none" stroke="#ff8e22" stroke-width="1.35" stroke-linejoin="round" stroke-linecap="round" />
<rect x="979.08" y="467.37" width="23.30" height="4.4" fill="none" stroke="#ff8e22" stroke-width="0.95"/>
<circle cx="981.88" cy="469.77" r="0.95" fill="#ff8e22"/><circle cx="1000.18" cy="469.77" r="0.95" fill="#ff8e22"/>
<path d="M1000.78 483.65L1031.40 483.65L1031.50 489.45C1031.50 491.65 1028.60 491.25 1028.60 493.65L1028.60 501.12" fill="none" stroke="#ff8e22" stroke-width="1.35" stroke-linejoin="round" stroke-linecap="round" />
<rect x="1006.90" y="484.85" width="23.30" height="4.4" fill="none" stroke="#ff8e22" stroke-width="0.95"/>
<circle cx="1009.70" cy="487.25" r="0.95" fill="#ff8e22"/><circle cx="1028.00" cy="487.25" r="0.95" fill="#ff8e22"/>
<path d="M1028.60 501.12L1059.22 501.12L1059.32 506.93C1059.32 509.12 1056.42 508.73 1056.42 511.12L1056.42 518.60" fill="none" stroke="#ff8e22" stroke-width="1.35" stroke-linejoin="round" stroke-linecap="round" />
<rect x="1034.72" y="502.32" width="23.30" height="4.4" fill="none" stroke="#ff8e22" stroke-width="0.95"/>
<circle cx="1037.52" cy="504.73" r="0.95" fill="#ff8e22"/><circle cx="1055.82" cy="504.73" r="0.95" fill="#ff8e22"/>
<path d="M1056.42 518.60L1087.04 518.60" fill="none" stroke="#ff8e22" stroke-width="1.35" stroke-linejoin="round" stroke-linecap="round" />
<rect x="1062.54" y="519.80" width="23.30" height="4.4" fill="none" stroke="#ff8e22" stroke-width="0.95"/>
<circle cx="1065.34" cy="522.20" r="0.95" fill="#ff8e22"/><circle cx="1083.64" cy="522.20" r="0.95" fill="#ff8e22"/>
</g>
<line x1="0.00" y1="533.90" x2="1200.00" y2="533.90" stroke="#7c7c7c" stroke-width="1.6" />
<line x1="73.00" y1="533.80" x2="322.00" y2="533.80" stroke="#4a4a4a" stroke-width="1.5" />
<line x1="116.00" y1="533.80" x2="280.00" y2="533.80" stroke="#1c1c1c" stroke-width="1.45" />
<line x1="1063.60" y1="533.90" x2="1086.80" y2="533.90" stroke="#e8862a" stroke-width="1.6" />
<line x1="208.80" y1="534.20" x2="216.40" y2="534.20" stroke="#a8e8a8" stroke-width="0.9" />
<line x1="459.20" y1="534.20" x2="466.70" y2="534.20" stroke="#a8e8a8" stroke-width="0.9" />
<line x1="588.20" y1="534.20" x2="596.20" y2="534.20" stroke="#a8e8a8" stroke-width="0.9" />
<line x1="838.00" y1="534.20" x2="846.50" y2="534.20" stroke="#a8e8a8" stroke-width="0.9" />
<line x1="1088.60" y1="534.20" x2="1095.80" y2="534.20" stroke="#a8e8a8" stroke-width="0.9" />
<line x1="73.20" y1="64.00" x2="150.90" y2="64.00" stroke="#484848" stroke-width="1.25" />
<line x1="88.10" y1="64.00" x2="88.10" y2="533.70" stroke="#484848" stroke-width="1.25" />
<polygon points="88.10,64.30 89.85,73.90 86.35,73.90" fill="#111"/>
<polygon points="88.10,533.40 86.35,523.80 89.85,523.80" fill="#111"/>
<line x1="115.80" y1="79.30" x2="193.90" y2="79.30" stroke="#484848" stroke-width="1.25" />
<line x1="130.70" y1="79.30" x2="130.70" y2="533.70" stroke="#484848" stroke-width="1.25" />
<polygon points="130.70,79.60 132.45,89.20 128.95,89.20" fill="#111"/>
<polygon points="130.70,533.40 128.95,523.80 132.45,523.80" fill="#111"/>
<line x1="161.40" y1="291.40" x2="204.00" y2="291.40" stroke="#484848" stroke-width="1.25" />
<line x1="174.00" y1="291.40" x2="174.00" y2="533.70" stroke="#484848" stroke-width="1.25" />
<polygon points="174.00,291.70 175.75,301.30 172.25,301.30" fill="#111"/>
<polygon points="174.00,533.40 172.25,523.80 175.75,523.80" fill="#111"/>
<text transform="translate(80.30,298.70) rotate(-90)" font-size="14" text-anchor="middle" fill="#000" stroke="#000" stroke-width="0.3">15'-6&quot; [186.0]</text>
<text transform="translate(122.90,306.40) rotate(-90)" font-size="14" text-anchor="middle" fill="#000" stroke="#000" stroke-width="0.3">15'-0&quot; [180.0]</text>
<text transform="translate(169.20,412.80) rotate(-90)" font-size="14" text-anchor="middle" fill="#000" stroke="#000" stroke-width="0.3">96&quot;</text>
<line x1="216.40" y1="549.30" x2="216.40" y2="574.00" stroke="#484848" stroke-width="1.2" />
<line x1="459.20" y1="549.30" x2="459.20" y2="574.00" stroke="#484848" stroke-width="1.2" />
<line x1="466.70" y1="549.30" x2="466.70" y2="574.00" stroke="#484848" stroke-width="1.2" />
<line x1="588.20" y1="549.30" x2="588.20" y2="574.00" stroke="#484848" stroke-width="1.2" />
<line x1="596.20" y1="549.30" x2="596.20" y2="574.00" stroke="#484848" stroke-width="1.2" />
<line x1="838.00" y1="549.30" x2="838.00" y2="574.00" stroke="#484848" stroke-width="1.2" />
<line x1="846.00" y1="549.30" x2="846.00" y2="574.00" stroke="#484848" stroke-width="1.2" />
<line x1="1088.60" y1="549.30" x2="1088.60" y2="574.00" stroke="#484848" stroke-width="1.2" />
<line x1="216.40" y1="558.80" x2="1088.60" y2="558.80" stroke="#484848" stroke-width="1.2" />
<polygon points="216.70,558.80 226.30,557.05 226.30,560.55" fill="#111"/>
<polygon points="458.90,558.80 449.30,560.55 449.30,557.05" fill="#111"/>
<polygon points="467.00,558.80 476.60,557.05 476.60,560.55" fill="#111"/>
<polygon points="587.90,558.80 578.30,560.55 578.30,557.05" fill="#111"/>
<polygon points="596.50,558.80 606.10,557.05 606.10,560.55" fill="#111"/>
<polygon points="837.70,558.80 828.10,560.55 828.10,557.05" fill="#111"/>
<polygon points="846.30,558.80 855.90,557.05 855.90,560.55" fill="#111"/>
<polygon points="1088.30,558.80 1078.70,560.55 1078.70,557.05" fill="#111"/>
<text x="338.10" y="553.90" font-size="14.4" text-anchor="middle" fill="#000" stroke="#000" stroke-width="0.2">8'-0&quot;</text>
<text x="527.75" y="553.90" font-size="14.4" text-anchor="middle" fill="#000" stroke="#000" stroke-width="0.2">4'-0&quot;</text>
<text x="717.40" y="553.90" font-size="14.4" text-anchor="middle" fill="#000" stroke="#000" stroke-width="0.2">8'-0&quot;</text>
<text x="967.60" y="553.90" font-size="14.4" text-anchor="middle" fill="#000" stroke="#000" stroke-width="0.2">8'-0&quot;</text>
<text x="334.40" y="596.30" font-size="21.1" text-anchor="middle" fill="#000" stroke="#000" stroke-width="0.25">A</text>
<text x="334.40" y="616.60" font-size="21.1" text-anchor="middle" fill="#000" stroke="#000" stroke-width="0.25">36&quot; x 96&quot;</text>
<text x="527.30" y="596.30" font-size="21.1" text-anchor="middle" fill="#000" stroke="#000" stroke-width="0.25">B</text>
<text x="527.30" y="616.60" font-size="21.1" text-anchor="middle" fill="#000" stroke="#000" stroke-width="0.25">36&quot; x 48&quot;</text>
<text x="720.80" y="596.30" font-size="21.1" text-anchor="middle" fill="#000" stroke="#000" stroke-width="0.25">A</text>
<text x="720.80" y="616.60" font-size="21.1" text-anchor="middle" fill="#000" stroke="#000" stroke-width="0.25">36&quot; x 96&quot;</text>
<text x="971.40" y="596.30" font-size="21.1" text-anchor="middle" fill="#000" stroke="#000" stroke-width="0.25">A</text>
<text x="971.40" y="616.60" font-size="21.1" text-anchor="middle" fill="#000" stroke="#000" stroke-width="0.25">36&quot; x 96&quot;</text>
<text x="846.30" y="641.30" font-size="21.1" text-anchor="middle" fill="#000" stroke="#000" stroke-width="0.25">SHOWN WITH BACKSTOP NETTING</text>
<line x1="1108.80" y1="79.20" x2="1136.30" y2="79.20" stroke="#484848" stroke-width="1.25" />
<line x1="1103.90" y1="109.50" x2="1136.30" y2="109.50" stroke="#484848" stroke-width="1.25" />
<line x1="1103.90" y1="144.85" x2="1136.30" y2="144.85" stroke="#484848" stroke-width="1.25" />
<line x1="1103.90" y1="180.20" x2="1136.30" y2="180.20" stroke="#484848" stroke-width="1.25" />
<line x1="1103.90" y1="215.55" x2="1136.30" y2="215.55" stroke="#484848" stroke-width="1.25" />
<line x1="1103.90" y1="250.90" x2="1136.30" y2="250.90" stroke="#484848" stroke-width="1.25" />
<line x1="1103.90" y1="296.35" x2="1136.30" y2="296.35" stroke="#484848" stroke-width="1.25" />
<line x1="1103.90" y1="346.85" x2="1136.30" y2="346.85" stroke="#484848" stroke-width="1.25" />
<line x1="1103.90" y1="387.25" x2="1136.30" y2="387.25" stroke="#484848" stroke-width="1.25" />
<line x1="1103.90" y1="427.65" x2="1136.30" y2="427.65" stroke="#484848" stroke-width="1.25" />
<line x1="1103.90" y1="468.05" x2="1136.30" y2="468.05" stroke="#484848" stroke-width="1.25" />
<line x1="1103.90" y1="513.50" x2="1136.30" y2="513.50" stroke="#484848" stroke-width="1.25" />
<line x1="1123.70" y1="79.20" x2="1123.70" y2="533.70" stroke="#484848" stroke-width="1.2" />
<polygon points="1123.70,79.50 1125.45,89.10 1121.95,89.10" fill="#111"/>
<polygon points="1123.70,109.20 1121.95,99.60 1125.45,99.60" fill="#111"/>
<text transform="translate(1118.60,94.95) rotate(-90)" font-size="13.6" text-anchor="middle" fill="#000" stroke="#000" stroke-width="0.3">12&quot;</text>
<polygon points="1123.70,109.80 1125.45,119.40 1121.95,119.40" fill="#111"/>
<polygon points="1123.70,144.55 1121.95,134.95 1125.45,134.95" fill="#111"/>
<text transform="translate(1118.60,127.78) rotate(-90)" font-size="13.6" text-anchor="middle" fill="#000" stroke="#000" stroke-width="0.3">14&quot;</text>
<polygon points="1123.70,145.15 1125.45,154.75 1121.95,154.75" fill="#111"/>
<polygon points="1123.70,179.90 1121.95,170.30 1125.45,170.30" fill="#111"/>
<text transform="translate(1118.60,163.13) rotate(-90)" font-size="13.6" text-anchor="middle" fill="#000" stroke="#000" stroke-width="0.3">14&quot;</text>
<polygon points="1123.70,180.50 1125.45,190.10 1121.95,190.10" fill="#111"/>
<polygon points="1123.70,215.25 1121.95,205.65 1125.45,205.65" fill="#111"/>
<text transform="translate(1118.60,198.48) rotate(-90)" font-size="13.6" text-anchor="middle" fill="#000" stroke="#000" stroke-width="0.3">14&quot;</text>
<polygon points="1123.70,215.85 1125.45,225.45 1121.95,225.45" fill="#111"/>
<polygon points="1123.70,250.60 1121.95,241.00 1125.45,241.00" fill="#111"/>
<text transform="translate(1118.60,233.83) rotate(-90)" font-size="13.6" text-anchor="middle" fill="#000" stroke="#000" stroke-width="0.3">14&quot;</text>
<polygon points="1123.70,251.20 1125.45,260.80 1121.95,260.80" fill="#111"/>
<polygon points="1123.70,296.05 1121.95,286.45 1125.45,286.45" fill="#111"/>
<text transform="translate(1118.60,274.23) rotate(-90)" font-size="13.6" text-anchor="middle" fill="#000" stroke="#000" stroke-width="0.3">18&quot;</text>
<polygon points="1123.70,296.65 1125.45,306.25 1121.95,306.25" fill="#111"/>
<polygon points="1123.70,346.55 1121.95,336.95 1125.45,336.95" fill="#111"/>
<text transform="translate(1118.60,322.20) rotate(-90)" font-size="13.6" text-anchor="middle" fill="#000" stroke="#000" stroke-width="0.3">20&quot;</text>
<polygon points="1123.70,347.15 1125.45,356.75 1121.95,356.75" fill="#111"/>
<polygon points="1123.70,386.95 1121.95,377.35 1125.45,377.35" fill="#111"/>
<text transform="translate(1118.60,367.65) rotate(-90)" font-size="13.6" text-anchor="middle" fill="#000" stroke="#000" stroke-width="0.3">16&quot;</text>
<polygon points="1123.70,387.55 1125.45,397.15 1121.95,397.15" fill="#111"/>
<polygon points="1123.70,427.35 1121.95,417.75 1125.45,417.75" fill="#111"/>
<text transform="translate(1118.60,408.05) rotate(-90)" font-size="13.6" text-anchor="middle" fill="#000" stroke="#000" stroke-width="0.3">16&quot;</text>
<polygon points="1123.70,427.95 1125.45,437.55 1121.95,437.55" fill="#111"/>
<polygon points="1123.70,467.75 1121.95,458.15 1125.45,458.15" fill="#111"/>
<text transform="translate(1118.60,448.45) rotate(-90)" font-size="13.6" text-anchor="middle" fill="#000" stroke="#000" stroke-width="0.3">16&quot;</text>
<polygon points="1123.70,468.35 1125.45,477.95 1121.95,477.95" fill="#111"/>
<polygon points="1123.70,513.20 1121.95,503.60 1125.45,503.60" fill="#111"/>
<text transform="translate(1118.60,491.38) rotate(-90)" font-size="13.6" text-anchor="middle" fill="#000" stroke="#000" stroke-width="0.3">18&quot;</text>
<polygon points="1123.70,534.00 1125.45,543.60 1121.95,543.60" fill="#111"/>
<line x1="1123.70" y1="533.70" x2="1123.70" y2="553.50" stroke="#484848" stroke-width="1.2" />
<text transform="translate(1118.60,524.20) rotate(-90)" font-size="13.6" text-anchor="middle" fill="#000" stroke="#000" stroke-width="0.3">8&quot;</text>
</svg>
</body></html>
